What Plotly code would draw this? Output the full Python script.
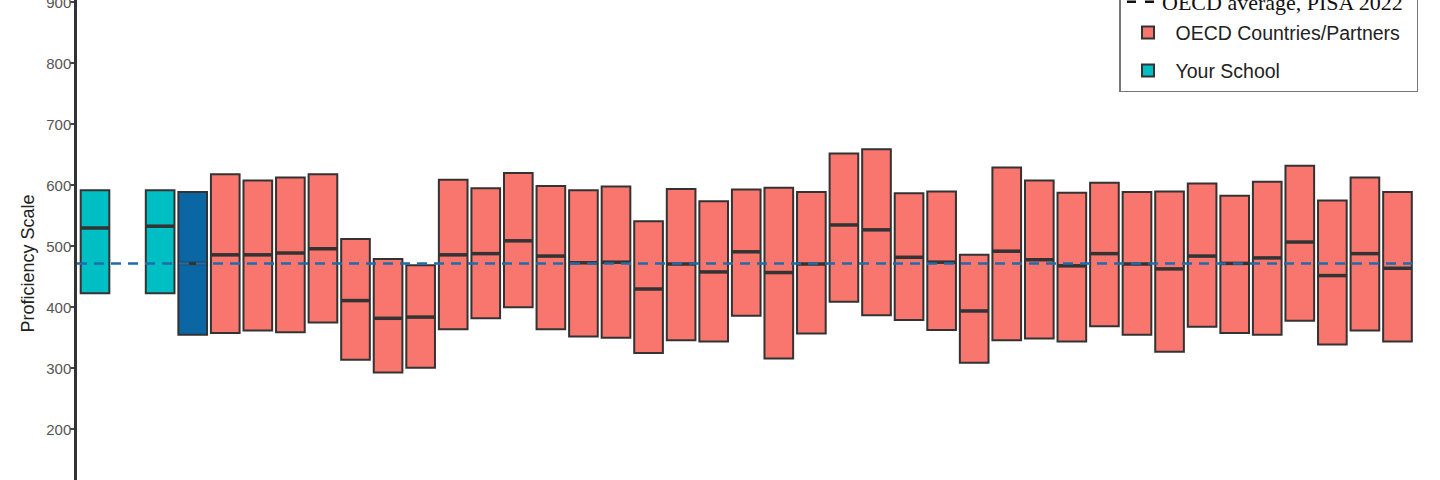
import plotly.graph_objects as go

# ---------------- data ----------------
OECD_AVG_2022 = 472

# slot labels (x-axis labels are not visible in the reference); "" = empty slot
school_labels = ["Your School (A)", "Your School (B)"]
school_low = [423, 423]
school_med = [530, 533]
school_high = [592, 592]

oecd_label = "OECD average"
oecd_low = [355]
oecd_med = [472]
oecd_high = [589]

country_labels = ["Country %d" % (i + 1) for i in range(37)]
country_low = [358, 362, 359, 375, 314, 293, 301, 364, 382, 400, 364, 352, 350,
               325, 346, 344, 386, 316, 357, 409, 387, 379, 363, 309, 346, 349,
               344, 369, 355, 327, 368, 358, 355, 378, 339, 362, 344]
country_med = [486, 486, 489, 496, 411, 382, 384, 486, 488, 509, 484, 473, 474,
               430, 471, 458, 491, 457, 471, 535, 527, 482, 474, 394, 492, 478,
               468, 488, 471, 463, 484, 472, 481, 507, 452, 488, 464]
country_high = [618, 608, 613, 618, 512, 479, 469, 609, 595, 620, 599, 592, 598,
                541, 594, 574, 593, 596, 589, 652, 659, 587, 590, 486, 629, 608,
                588, 604, 589, 590, 603, 583, 606, 632, 575, 613, 589]

categories = [school_labels[0], "", school_labels[1], oecd_label] + country_labels
yticks = [200, 300, 400, 500, 600, 700, 800, 900]

# ---------------- styles ----------------
W, H = 1440, 480
RED = "#F8766D"
TEAL = "#00BFC4"
DBLUE = "#0B67A4"
EDGE = "#333333"
DASH = "#1F6CAB"
BOX_W = 0.88
SANS = "Liberation Sans, Arial, sans-serif"
SERIF = "Liberation Serif, Times New Roman, serif"

pos = {c: i for i, c in enumerate(categories)}
x_school = [pos[c] for c in school_labels]
x_oecd = [pos[oecd_label]]
x_country = [pos[c] for c in country_labels]

fig = go.Figure()

# serif legend entry for the dashed average line (own legend, no frame)
fig.add_trace(go.Scatter(
    x=[None], y=[None], mode="lines",
    line=dict(color="#111111", width=2.5, dash="dash"),
    name="OECD average, PISA 2022", legend="legend2",
))

# blank spacer entry so the framed legend reaches above the top edge
fig.add_trace(go.Scatter(
    x=[None], y=[None], mode="lines", line=dict(color="rgba(0,0,0,0)", width=0),
    name=" ", legendgroup="g0", hoverinfo="skip",
))

def add_boxes(xs, lo, med, hi, color, name, show, group):
    fig.add_trace(go.Box(
        x=xs, q1=lo, median=med, q3=hi, lowerfence=lo, upperfence=hi,
        width=BOX_W, whiskerwidth=0, fillcolor=color,
        line=dict(color=EDGE, width=2), name=name, showlegend=show,
        legendgroup=group, boxpoints=False, hoverinfo="y",
    ))

add_boxes(x_country, country_low, country_med, country_high, RED,
          "OECD Countries/Partners\u00a0\u00a0", True, "g1")
add_boxes(x_school, school_low, school_med, school_high, TEAL,
          "Your School", True, "g2")
add_boxes(x_oecd, oecd_low, oecd_med, oecd_high, DBLUE,
          "OECD average", False, "g3")

# thicker median bars
fig.add_trace(go.Scatter(
    x=x_school + x_oecd + x_country,
    y=school_med + oecd_med + country_med,
    mode="markers", showlegend=False, hoverinfo="skip",
    marker=dict(symbol="line-ew", size=20, line=dict(color=EDGE, width=3.5)),
))

# OECD average dashed line
fig.add_shape(type="line", xref="paper", x0=0, x1=1, yref="y",
              y0=OECD_AVG_2022, y1=OECD_AVG_2022, layer="above",
              line=dict(color=DASH, width=2.5, dash="10px,7px"))

fig.add_annotation(
    text="Proficiency Scale", textangle=-90, showarrow=False,
    xref="paper", x=0, xanchor="center", xshift=-50,
    yref="paper", y=(H - 263.5) / H, yanchor="middle",
    font=dict(family=SANS, size=18, color="#222222"),
)

L, R = 77, 1418
fig.update_layout(
    width=W, height=H,
    margin=dict(l=L, r=W - R, t=0, b=0, autoexpand=False),
    plot_bgcolor="white", paper_bgcolor="white",
    boxmode="overlay",
    font=dict(family=SANS, color="#222222"),
    legend=dict(
        x=1, xanchor="right", y=(H - 92) / H, yanchor="bottom",
        bgcolor="white", bordercolor="#777777", borderwidth=1.5,
        font=dict(family=SANS, size=19.5, color="#222222"),
        traceorder="grouped", tracegroupgap=9.5, itemwidth=45,
    ),
    legend2=dict(
        x=(1122 - L) / (R - L), xanchor="left", y=(H - 2) / H, yanchor="middle",
        bgcolor="rgba(0,0,0,0)", borderwidth=0,
        font=dict(family=SERIF, size=22, color="#111111"),
    ),
)
fig.update_xaxes(range=[-0.553, 40.63], showticklabels=False, ticks="",
                 showgrid=False, zeroline=False, showline=False)
fig.update_yaxes(range=[116.9, 903.8], tickvals=yticks,
                 ticktext=[str(v) for v in yticks],
                 ticks="outside", ticklen=4, tickwidth=1.5, tickcolor="#444444",
                 tickfont=dict(family=SANS, size=15, color="#555555"),
                 ticklabeloverflow="allow", ticklabelstandoff=-4,
                 showgrid=False, zeroline=False, showline=True,
                 linecolor="#333333", linewidth=2.5)

fig.write_html("out.html", config={"displayModeBar": False},
               post_script="document.body.style.margin='0px';")
